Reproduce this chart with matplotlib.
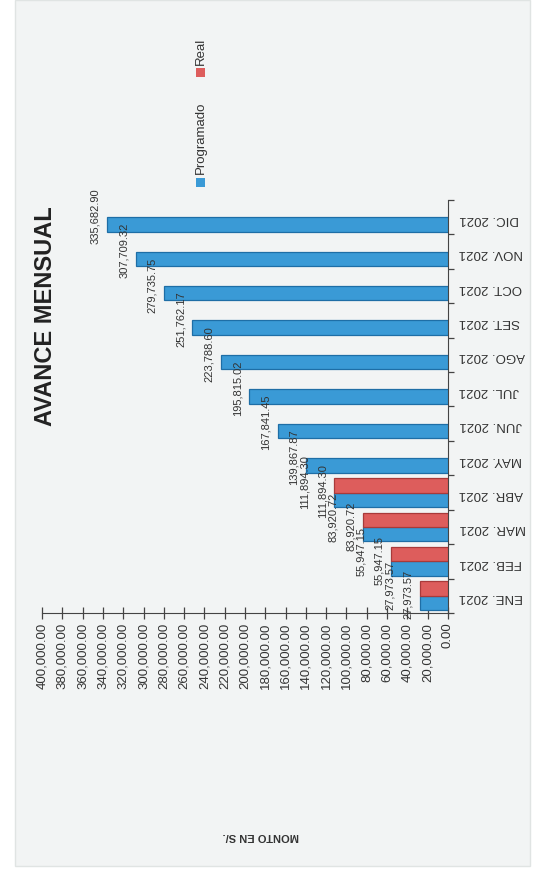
import matplotlib
matplotlib.use("Agg")
from matplotlib import pyplot as plt
from matplotlib.patches import Rectangle
import numpy as np

plt.rcParams['font.family'] = ['Liberation Sans', 'DejaVu Sans']

meses = ["ENE. 2021", "FEB. 2021", "MAR. 2021", "ABR. 2021", "MAY. 2021", "JUN. 2021",
         "JUL. 2021", "AGO. 2021", "SET. 2021", "OCT. 2021", "NOV. 2021", "DIC. 2021"]
programado = [27973.57, 55947.15, 83920.72, 111894.30, 139867.87, 167841.45,
              195815.02, 223788.60, 251762.17, 279735.75, 307709.32, 335682.90]
real = [27973.57, 55947.15, 83920.72, 111894.30]

azul = "#3a9ad6"
rojo = "#dd5d5c"

W, H = 541, 876
fig = plt.figure(figsize=(W / 100, H / 100), dpi=100, facecolor="white")

# fondo gris claro del grafico escaneado (detras de los ejes)
fig.patches.append(Rectangle((15 / W, 1 - 866 / H), 515 / W, 866 / H,
                             transform=fig.transFigure, facecolor="#f2f4f4",
                             edgecolor="#e0e4e3", lw=1, zorder=-10))

ax = fig.add_axes([42 / W, 1 - 613 / H, 406 / W, 413 / H])
ax.set_facecolor("none")

y = np.arange(len(meses))
h = 0.42
ax.barh(y - h / 2, programado, height=h, color=azul, edgecolor="#1e6ea6", lw=0.9, zorder=3)
yr = np.arange(len(real))
ax.barh(yr + h / 2, real, height=h, color=rojo, edgecolor="#a83a3a", lw=0.9, zorder=3)

# etiquetas de datos
for i, v in enumerate(programado):
    ax.annotate(f"{v:,.2f}", (v, i - h / 2), xytext=(-5, 6), textcoords="offset points",
                rotation=90, ha="right", va="center", fontsize=8, color="#333333")
for i, v in enumerate(real):
    ax.annotate(f"{v:,.2f}", (v, i + h / 2), xytext=(-18, 2), textcoords="offset points",
                rotation=90, ha="right", va="center", fontsize=8, color="#333333")

ax.set_xlim(400000, 0)
ax.set_ylim(-0.5, len(meses) - 0.5)
ax.set_xticks(np.arange(0, 400001, 20000))
ax.set_xticklabels([f"{t:,.2f}" for t in np.arange(0, 400001, 20000)],
                   rotation=90, fontsize=9.5, color="#333333")
ax.tick_params(axis="x", direction="inout", length=8, width=0.9, color="#444444", pad=3)

ax.yaxis.tick_right()
ax.set_yticks(y)
ax.set_yticklabels(meses, rotation=180, fontsize=9.5, color="#333333")
ax.set_yticks(np.arange(-0.5, len(meses)), minor=True)
ax.tick_params(axis="y", which="major", length=0, pad=8)
ax.tick_params(axis="y", which="minor", direction="out", length=4, width=0.9, color="#444444")

for s in ["top", "left"]:
    ax.spines[s].set_visible(False)
ax.spines["bottom"].set_color("#444444")
ax.spines["right"].set_color("#444444")

# titulo y eje
fig.text(46 / W, 1 - 316 / H, "AVANCE MENSUAL", rotation=90, ha="center", va="center",
         fontsize=17, fontweight="bold", color="#222222")
fig.text(261 / W, 1 - 836 / H, "MONTO EN S/.", rotation=180, ha="center", va="center",
         fontsize=8, fontweight="bold", color="#333333")

# leyenda girada
for col, nombre, ym, yt in [(azul, "Programado", 182, 174), (rojo, "Real", 72, 65)]:
    fig.patches.append(Rectangle((196 / W, 1 - (ym + 5) / H), 9 / W, 9 / H,
                                 transform=fig.transFigure, facecolor=col,
                                 edgecolor="none", zorder=3))
    fig.text(201 / W, 1 - yt / H, nombre, rotation=90, ha="center", va="bottom",
             fontsize=9.5, color="#333333")

fig.savefig("out.png", dpi=100, facecolor=fig.get_facecolor())
